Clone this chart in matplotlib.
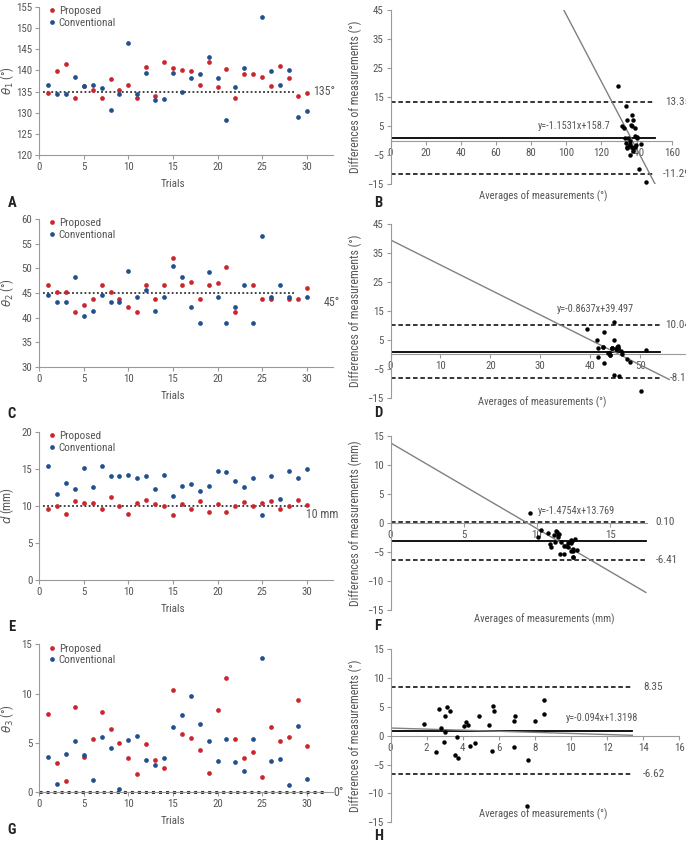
import matplotlib
matplotlib.use('Agg')
import matplotlib.pyplot as plt
from matplotlib import font_manager as fm
import numpy as np

# pick a narrow sans font if one is installed
_fonts = [(f.name, f.stretch) for f in fm.fontManager.ttflist]
_names = {n for n, _ in _fonts}
FONT_STRETCH = 'normal'
SCALE = 1.0
if 'Liberation Sans Narrow' in _names:
    FONT = 'Liberation Sans Narrow'
elif 'Roboto Condensed' in _names:
    FONT = 'Roboto Condensed'
elif any(n == 'DejaVu Sans' and s in ('condensed', 'semi-condensed') for n, s in _fonts):
    FONT = 'DejaVu Sans'; FONT_STRETCH = 'condensed'; SCALE = 0.92
else:
    FONT = 'Roboto'; SCALE = 0.88
plt.rcParams['font.family'] = [FONT, 'DejaVu Sans']
plt.rcParams['font.stretch'] = FONT_STRETCH
plt.rcParams['mathtext.fontset'] = 'dejavusans'

nan = float('nan')
trials = list(range(1, 31))

# ---- Panel A: theta1 ----
theta1_proposed = [134.7, 139.9, 141.6, 133.6, 136.4, 135.4, 133.6, 137.9, 135.4, 136.6,
                   133.6, 140.8, 134.0, 142.0, 140.6, 140.1, 139.8, 136.6, 142.0, 136.2,
                   140.3, 133.6, 139.2, 139.1, 138.4, 136.3, 141.1, 138.1, 134.0, 134.7]
theta1_conventional = [136.6, 134.4, 134.4, 138.4, 136.4, 136.6, 135.8, 130.7, 134.4, 146.4,
                       134.4, 139.5, 133.0, 133.2, 139.5, 135.0, 138.3, 139.2, 143.1, 138.2,
                       128.2, 136.0, 140.5, nan, 152.5, 139.9, 136.6, 140.1, 129.1, 130.5]
# ---- Panel C: theta2 ----
theta2_proposed = [46.6, 45.3, 45.3, 41.1, 42.5, 43.8, 46.6, 45.3, 43.8, 42.1,
                   41.1, 46.6, 43.8, 46.6, 52.0, 46.6, 47.2, 43.8, 46.6, 47.0,
                   50.3, 41.1, nan, 46.6, 43.8, 43.8, nan, 43.8, 43.8, 46.1]
theta2_conventional = [44.5, 43.2, 43.2, 48.2, 40.4, 41.4, 44.6, 43.2, 43.2, 49.5,
                       44.2, 45.6, 41.3, 44.2, 50.5, 48.2, 42.1, 39.0, 49.2, 44.2,
                       39.0, 42.1, 46.6, 39.0, 56.6, 44.2, 46.6, 44.2, nan, 44.2]
# ---- Panel E: d ----
d_proposed = [9.5, 9.9, 8.9, 10.6, 10.4, 10.4, 9.5, 11.2, 10.0, 8.9,
              10.4, 10.8, 10.2, 10.0, 8.8, 10.2, 9.6, 10.6, 9.1, 10.2,
              9.2, 10.0, 10.5, 9.9, 10.4, 10.6, 9.6, 9.9, 10.8, 10.1]
d_conventional = [15.4, 11.6, 13.1, 12.25, 15.1, 12.5, 15.4, 14.0, 14.0, 14.2,
                  13.8, 14.0, 12.25, 14.2, 11.3, 12.7, 12.9, 12.0, 12.7, 14.7,
                  14.5, 13.3, 12.5, 13.8, 8.7, 14.0, 10.9, 14.7, 13.8, 14.9]
# ---- Panel G: theta3 ----
theta3_proposed = [7.9, 2.9, 1.1, 8.6, 3.6, 5.4, 8.1, 6.4, 5.0, 3.5,
                   1.8, 4.9, 3.3, 2.4, 10.4, 5.9, 5.5, 4.3, 1.9, 8.3,
                   11.6, 5.4, 3.5, 4.1, 1.5, 6.6, 5.2, 5.6, 9.3, 4.7]
theta3_conventional = [3.6, 0.8, 3.9, 5.2, 3.8, 1.2, 5.6, 4.5, 0.35, 5.25,
                       5.7, 3.25, 2.7, 3.5, 6.6, 7.8, 9.7, 6.9, 5.2, 3.1,
                       5.4, 3.05, 2.1, 5.35, 13.6, 3.15, 3.35, 0.7, 6.7, 1.35]

# ---- Bland-Altman panels ----
ba_b_avg = [135.65, 137.1, 138.0, 136.0, 136.4, 136.0, 134.7, 134.3, 134.9, 141.5,
            134.0, 140.15, 133.5, 137.6, 140.05, 137.55, 139.05, 137.9, 142.55, 137.2,
            134.25, 134.8, 139.85, 129.5, 145.45, 138.1, 138.85, 139.1, 131.55, 132.6]
ba_b_diff = [-1.9, 5.45, 7.2, -4.8, 0.0, -1.2, -2.2, 7.2, 1.0, -9.8,
             -0.8, 1.3, 1.0, 8.8, 1.1, 5.1, 1.5, -2.6, -1.1, -2.0,
             12.1, -2.4, -1.3, 18.9, -14.1, -3.6, 4.5, -2.0, 4.9, 4.25]
ba_d_avg = [45.55, 44.25, 44.25, 44.65, 41.45, 42.6, 45.6, 44.25, 43.5, 45.8,
            42.65, 46.1, 42.55, 45.4, 51.25, 47.4, 44.65, 41.4, 47.9, 45.6,
            44.65, 41.6, 46.4, 42.8, 50.2, 44.0, 43.8, 44.0, 39.3, 45.15]
ba_d_diff = [2.1, 2.1, 2.1, -7.1, 2.1, 2.4, 2.0, 2.1, 0.6, -7.4,
             -3.1, 1.0, 2.5, 2.4, 1.5, -1.6, 5.1, 4.8, -2.6, 2.8,
             11.3, -1.0, 0.2, 7.6, -12.8, -0.4, 0.3, -0.4, 8.9, 1.9]
ba_f_avg = [12.45, 10.75, 11.0, 11.4, 12.75, 11.45, 12.45, 12.6, 12.0, 11.55,
            12.1, 12.4, 11.2, 12.1, 10.05, 11.45, 11.25, 11.3, 10.9, 12.45,
            11.85, 11.65, 11.5, 11.85, 9.55, 12.3, 10.25, 12.3, 12.3, 12.5]
ba_f_diff = [-5.9, -1.7, -4.2, -1.65, -4.7, -2.1, -5.9, -2.8, -4.0, -5.3,
             -3.4, -3.2, -2.05, -4.2, -2.5, -2.5, -3.3, -1.4, -3.6, -4.5,
             -5.3, -3.3, -2.0, -3.9, 1.7, -3.4, -1.3, -4.8, -3.0, -4.8]
ba_h_avg = [5.75, 1.85, 2.5, 6.9, 3.7, 3.3, 6.85, 5.45, 2.68, 4.38,
            3.75, 4.08, 3.0, 2.95, 8.5, 6.85, 7.6, 5.6, 3.55, 5.7,
            8.5, 4.2, 2.8, 4.7, 7.55, 4.9, 4.3, 3.15, 8.0, 3.0]
ba_h_diff = [4.3, 2.1, -2.8, 3.4, -0.2, 4.2, 2.5, 1.9, 4.65, -1.75,
             -3.9, 1.65, 0.6, -1.1, 3.8, -1.9, -4.2, -2.6, -3.3, 5.2,
             6.2, 2.35, 1.4, -1.25, -12.1, 3.45, 1.85, 4.9, 2.6, 3.35]

loa_upper = [13.35, 10.04, 0.10, 8.35]
loa_lower = [-11.29, -8.14, -6.41, -6.62]
loa_upper_text = ['13.35', '10.04', '0.10', '8.35']
loa_lower_text = ['-11.29', '-8.14', '-6.41', '-6.62']
bias = [1.03, 0.95, -3.155, 0.865]
reg_slope = [-1.1531, -0.8637, -1.4754, -0.094]
reg_intercept = [158.7, 39.497, 13.769, 1.3198]
reg_text = ['y=-1.1531x+158.7', 'y=-0.8637x+39.497', 'y=-1.4754x+13.769', 'y=-0.094x+1.3198']

# ---- styling ----
W, H = 686, 847
RED = '#c9262e'
BLUE = '#22508f'
TXT = '#555555'
SPINE = '#9a9a9a'
FS_TICK = 7.8 * SCALE
FS_LEG = 8.0 * SCALE
FS_XLAB = 8.0 * SCALE
FS_YLAB_L = 8.6 * SCALE
FS_REF = 8.6 * SCALE
FS_YLAB_R = 8.5 * SCALE
FS_XLAB_R = 7.7 * SCALE
FS_EQ = 7.4 * SCALE
FS_LOA = 8.0 * SCALE
FS_LET = 10.5 * SCALE

fig = plt.figure(figsize=(W / 100, H / 100), dpi=100)


def rect(l, t, r, b):
    return [l / W, 1 - b / H, (r - l) / W, (b - t) / H]


def style_axes(ax):
    for s in ['top', 'right']:
        ax.spines[s].set_visible(False)
    for s in ['left', 'bottom']:
        ax.spines[s].set_color(SPINE)
        ax.spines[s].set_linewidth(0.8)
    ax.tick_params(colors=SPINE, labelcolor=TXT, labelsize=FS_TICK, length=3, width=0.8, pad=2)


def left_panel(top, bottom, ylim, yticks, prop, conv, ylab, ref, ref_x, ref_lw, ref_label, ref_lab_xy):
    ax = fig.add_axes(rect(39.3, top, 39.3 + 33 * 8.91, bottom))
    ax.plot([ref_x[0], ref_x[1]], [ref, ref], color='#333333', ls=(0, (1, 1.3)), lw=ref_lw, zorder=2, clip_on=False)
    ax.plot(trials, prop, 'o', color=RED, ms=3.4, mew=0, label='Proposed', zorder=3, clip_on=False)
    ax.plot(trials, conv, 'o', color=BLUE, ms=3.4, mew=0, label='Conventional', zorder=3, clip_on=False)
    ax.text(ref_lab_xy[0], ref_lab_xy[1], ref_label, color=TXT, fontsize=FS_REF, va='center', ha='left', clip_on=False)
    ax.set_xlim(0, 33)
    ax.set_ylim(*ylim)
    ax.set_xticks(range(0, 31, 5))
    ax.set_yticks(yticks)
    style_axes(ax)
    leg = ax.legend(loc='upper left', bbox_to_anchor=(0.034, 1.005), frameon=False, handlelength=0.5,
                    handletextpad=0.35, labelspacing=0.15, fontsize=FS_LEG, borderaxespad=0, borderpad=0)
    for t in leg.get_texts():
        t.set_color(TXT)
    fig.text(7 / W, 1 - (top + bottom) / 2 / H, ylab, rotation=90, ha='center', va='center', color=TXT, fontsize=FS_YLAB_L)
    fig.text(173 / W, 1 - (bottom + 29) / H, 'Trials', ha='center', va='center', color=TXT, fontsize=FS_XLAB)
    return ax


def right_panel(i, top, bottom, right_px, xmax, xticks, avg, diff, line_end, reg_end, lab_x, eq_xy, ylab, xlab, xlab_xy):
    ax = fig.add_axes(rect(390.5, top, right_px, bottom))
    ax.set_xlim(0, xmax)
    ax.set_ylim(-15, 15 if i >= 2 else 45)
    xs = np.array([0, line_end])
    ax.plot(xs, [bias[i], bias[i]], color='black', lw=1.3, zorder=2)
    ax.plot(xs, [loa_upper[i], loa_upper[i]], color='black', lw=1.1, ls=(0, (3, 1.8)), zorder=2)
    ax.plot(xs, [loa_lower[i], loa_lower[i]], color='black', lw=1.1, ls=(0, (3, 1.8)), zorder=2)
    rx = np.array([0, reg_end])
    ax.plot(rx, reg_slope[i] * rx + reg_intercept[i], color='#808080', lw=1.0, zorder=2)
    ax.plot(avg, diff, 'o', color='black', ms=3.2, mew=0, zorder=3)
    ax.text(lab_x[0], loa_upper[i], loa_upper_text[i], color=TXT, fontsize=FS_LOA, va='center', ha='left', clip_on=False)
    ax.text(lab_x[1], loa_lower[i], loa_lower_text[i], color=TXT, fontsize=FS_LOA, va='center', ha='left', clip_on=False)
    ax.text(eq_xy[0], eq_xy[1], reg_text[i], color=TXT, fontsize=FS_EQ, va='center', ha='center')
    ax.spines['bottom'].set_position(('data', 0))
    ax.set_xticks(xticks)
    ax.set_yticks(list(range(-15, 46, 10)) if i < 2 else list(range(-15, 16, 5)))
    style_axes(ax)
    fig.text(355 / W, 1 - (top + bottom) / 2 / H, ylab, rotation=90, ha='center', va='center', color=TXT, fontsize=FS_YLAB_R)
    fig.text(xlab_xy[0] / W, 1 - xlab_xy[1] / H, xlab, ha='center', va='center', color=TXT, fontsize=FS_XLAB_R)
    return ax


# Left column
left_panel(6.7, 155.3, (120, 155), range(120, 156, 5), theta1_proposed, theta1_conventional,
           r'$\theta_1$ (°)', 135, (0.45, 28.7), 1.3, '135°', (30.75, 135))
left_panel(219, 367, (30, 60), range(30, 61, 5), theta2_proposed, theta2_conventional,
           r'$\theta_2$ (°)', 45, (0.45, 28.6), 1.3, '45°', (31.9, 43.1))
left_panel(431.7, 579.7, (0, 20), range(0, 21, 5), d_proposed, d_conventional,
           r'$d$ (mm)', 10, (0.4, 30.2), 1.3, '10 mm', (29.9, 8.75))
left_panel(644.3, 792, (0, 15), range(0, 16, 5), theta3_proposed, theta3_conventional,
           r'$\theta_3$ (°)', 0, (0.0, 32.0), 2.2, '0°', (33.0, 0))

# Right column
right_panel(0, 10, 184.3, 671.7, 160, range(0, 161, 20), ba_b_avg, ba_b_diff, 150.5, 150.5, (156.3, 155.0),
            (104.7, 4.9), 'Differences of measurements (°)', 'Averages of measurements (°)', (543, 196))
right_panel(1, 224, 397.7, 690.2, 60, range(0, 61, 10), ba_d_avg, ba_d_diff, 54.0, 55.8, (55.0, 56.0),
            (41.0, 15.5), 'Differences of measurements (°)', 'Averages of measurements (°)', (542, 402))
right_panel(2, 435.7, 610, 646.6, 17.5, range(0, 16, 5), ba_f_avg, ba_f_diff, 17.45, 17.45, (18.1, 18.1),
            (12.7, 2.1), 'Differences of measurements (mm)', 'Averages of measurements (mm)', (544, 619))
right_panel(3, 649, 822.3, 679.3, 16, range(0, 17, 2), ba_h_avg, ba_h_diff, 13.4, 13.4, (14.0, 14.0),
            (11.7, 3.1), 'Differences of measurements (°)', 'Averages of measurements (°)', (543, 814))

# Panel letters
letters = ['A', 'B', 'C', 'D', 'E', 'F', 'G', 'H']
letter_pos = [(12, 203), (378, 203), (12, 414), (378, 413), (12, 627), (378, 626), (12, 830), (379, 836)]
for lt, (x, y) in zip(letters, letter_pos):
    fig.text(x / W, 1 - y / H, lt, ha='center', va='center', fontsize=FS_LET, fontweight='bold', color='#222222')

fig.savefig('out.png', dpi=100)
